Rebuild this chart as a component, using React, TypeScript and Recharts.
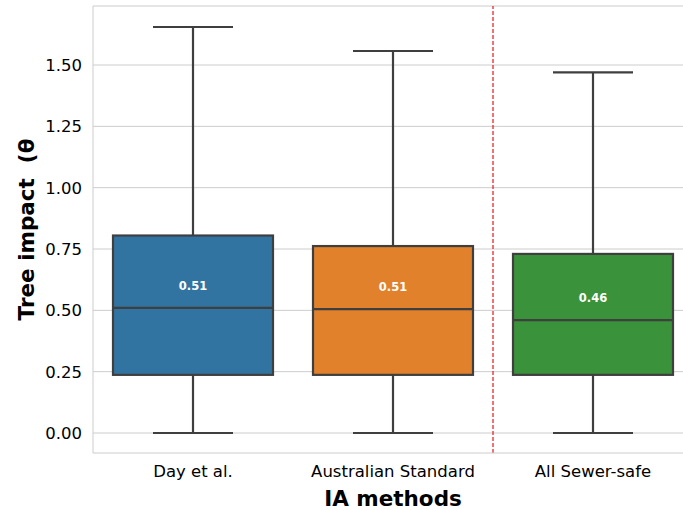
import React from 'react';
import { ComposedChart, Bar, XAxis, YAxis, CartesianGrid, ReferenceLine } from 'recharts';

const methods = ['Day et al.', 'Australian Standard', 'All Sewer-safe'];
const whiskerLow = [0, 0, 0];
const q1 = [0.237, 0.237, 0.237];
const medians = [0.51, 0.505, 0.46];
const q3 = [0.805, 0.762, 0.73];
const whiskerHigh = [1.655, 1.557, 1.47];
const medianLabels = ['0.51', '0.51', '0.46'];
const boxColors = ['#3274a1', '#e1812c', '#3a923a'];
const yTicks = [0, 0.25, 0.5, 0.75, 1.0, 1.25, 1.5];
const dividerBefore = 'All Sewer-safe';

const Y_MIN = -0.0815;
const Y_MAX = 1.7405;
const FONT = 'DejaVu Sans, sans-serif';
const EDGE = '#3f3f3f';

const data = methods.map((m, i) => ({
  name: m,
  range: [whiskerLow[i], whiskerHigh[i]],
  idx: i,
}));

// draws one box plot inside the bar rectangle spanning min..max
function BoxShape(props: any) {
  const { x, y, width, height, payload } = props;
  const i = payload.idx;
  const top = Math.min(y, y + height);
  const h = Math.abs(height);
  const lo = whiskerLow[i];
  const hi = whiskerHigh[i];
  const py = (v: number) => top + ((hi - v) / (hi - lo)) * h;
  const cx = x + width / 2;
  const capW = width / 2;
  const yQ1 = py(q1[i]);
  const yQ3 = py(q3[i]);
  const yMed = py(medians[i]);
  const yLabel = py(medians[i] + 0.09);
  return (
    <g>
      <line x1={cx} x2={cx} y1={py(hi)} y2={yQ3} stroke={EDGE} strokeWidth={2.2} />
      <line x1={cx} x2={cx} y1={yQ1} y2={py(lo)} stroke={EDGE} strokeWidth={2.2} />
      <line x1={cx - capW / 2} x2={cx + capW / 2} y1={py(hi)} y2={py(hi)} stroke={EDGE} strokeWidth={2.2} />
      <line x1={cx - capW / 2} x2={cx + capW / 2} y1={py(lo)} y2={py(lo)} stroke={EDGE} strokeWidth={2.2} />
      <rect x={x} y={yQ3} width={width} height={yQ1 - yQ3} fill={boxColors[i]} stroke={EDGE} strokeWidth={2.2} />
      <line x1={x} x2={x + width} y1={yMed} y2={yMed} stroke={EDGE} strokeWidth={2.2} />
      <text x={cx} y={yLabel} fill="#ffffff" fontFamily={FONT} fontSize={11.5} fontWeight="bold" textAnchor="middle" dominantBaseline="central">
        {medianLabels[i]}
      </text>
    </g>
  );
}

function YLabel(props: any) {
  const vb = props.viewBox;
  const cx = vb.x + 26;
  const cy = vb.y + vb.height / 2;
  return (
    <text x={cx} y={cy} transform={`rotate(-90, ${cx}, ${cy})`} textAnchor="middle" dominantBaseline="central"
      fontFamily={FONT} fontSize={21.5} fontWeight="bold" fill="#000" style={{ whiteSpace: 'pre' }}>
      {'Tree impact  (θ'}
    </text>
  );
}

export default function App() {
  return (
    <div style={{ position: 'absolute', left: 0, top: 0, width: 683, height: 510, overflow: 'hidden', background: '#fff' }}>
      <ComposedChart width={700} height={510} data={data} margin={{ top: 6, right: 7, bottom: 0, left: 0 }} barSize={160}>
        <CartesianGrid vertical={false} stroke="#cccccc" horizontalValues={yTicks} />
        <XAxis
          dataKey="name"
          height={57}
          tickLine={false}
          tickSize={6}
          tickMargin={6}
          axisLine={{ stroke: '#cccccc' }}
          tick={{ fill: '#000', fontFamily: FONT, fontSize: 16.5 }}
          label={{ value: 'IA methods', position: 'insideBottom', offset: 4, fill: '#000', fontFamily: FONT, fontSize: 21.5, fontWeight: 'bold' }}
        />
        <YAxis
          width={93}
          domain={[Y_MIN, Y_MAX]}
          allowDataOverflow
          ticks={yTicks}
          tickFormatter={(v: number) => v.toFixed(2)}
          tickLine={false}
          tickSize={6}
          tickMargin={5}
          axisLine={{ stroke: '#cccccc' }}
          tick={{ fill: '#000', fontFamily: FONT, fontSize: 16.5 }}
          label={{ content: YLabel }}
        />
        <ReferenceLine y={Y_MAX} stroke="#cccccc" />
        <Bar dataKey="range" shape={BoxShape} isAnimationActive={false} />
        <ReferenceLine x={dividerBefore} position="start" stroke="#e8141b" strokeDasharray="4 2" strokeWidth={1.2} />
      </ComposedChart>
    </div>
  );
}
